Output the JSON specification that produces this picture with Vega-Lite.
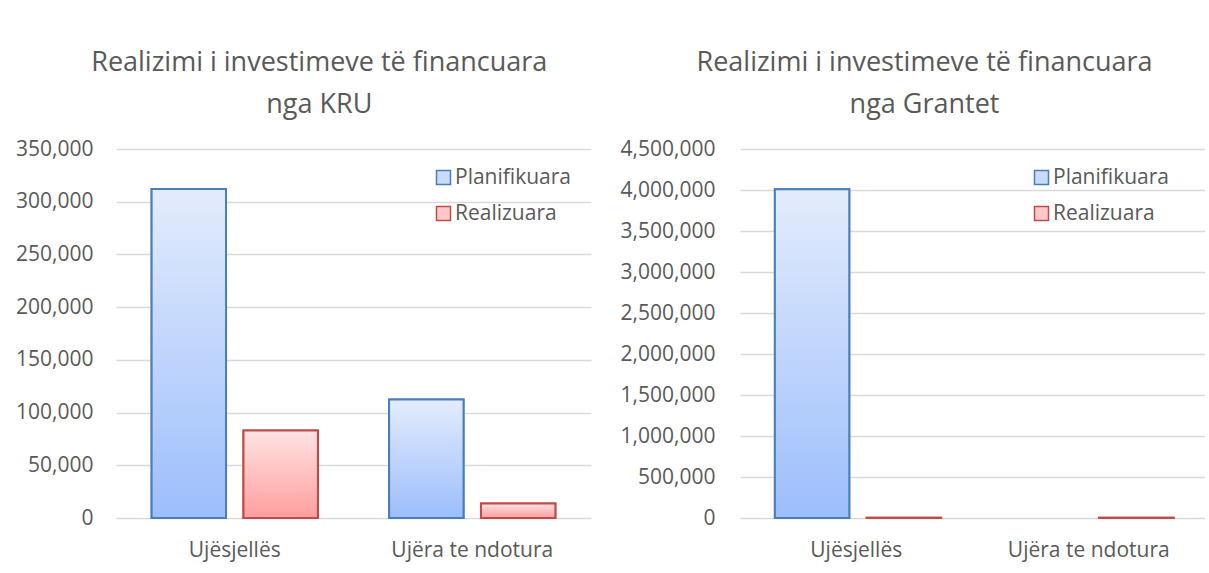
{
  "$schema": "https://vega.github.io/schema/vega-lite/v6.json",
  "padding": {"left": 15, "top": 49, "right": 0, "bottom": 10},
  "background": "white",
  "config": {
    "font": "Open Sans",
    "view": {"stroke": null},
    "title": {"font": "Open Sans", "fontSize": 27, "fontWeight": "normal", "color": "#595959", "lineHeight": 42, "anchor": "middle", "frame": "bounds", "offset": 19},
    "axis": {"labelFont": "Open Sans", "labelFontSize": 21, "labelColor": "#595959", "ticks": false, "domain": false, "title": null, "gridColor": "#d9d9d9", "gridWidth": 1.3},
    "legend": {"labelFont": "Open Sans", "labelFontSize": 21, "labelColor": "#595959", "symbolType": "square", "symbolSize": 196, "symbolStrokeWidth": 1.5, "labelOffset": 1, "rowPadding": 14, "title": null, "orient": "none"}
  },
  "datasets": {
    "rows": [
      {"panel": "KRU", "category": "Ujësjellës", "series": "Planifikuara", "value": 312000},
      {"panel": "KRU", "category": "Ujësjellës", "series": "Realizuara", "value": 83000},
      {"panel": "KRU", "category": "Ujëra te ndotura", "series": "Planifikuara", "value": 112500},
      {"panel": "KRU", "category": "Ujëra te ndotura", "series": "Realizuara", "value": 13800},
      {"panel": "Grantet", "category": "Ujësjellës", "series": "Planifikuara", "value": 4010000},
      {"panel": "Grantet", "category": "Ujësjellës", "series": "Realizuara", "value": 3000},
      {"panel": "Grantet", "category": "Ujëra te ndotura", "series": "Realizuara", "value": 3000}
    ]
  },
  "data": {"name": "rows"},
  "spacing": 29,
  "resolve": {"legend": {"fill": "independent", "stroke": "independent"}},
  "hconcat": [
    {
      "width": 475,
      "height": 369,
      "title": {"text": ["Realizimi i investimeve të financuara", "nga KRU"], "dx": 16},
      "transform": [{"filter": "datum.panel === 'KRU'"}],
      "encoding": {
        "x": {"field": "category", "type": "nominal", "sort": ["Ujësjellës", "Ujëra te ndotura"], "scale": {"domain": ["Ujësjellës", "Ujëra te ndotura"], "paddingInner": 0.3, "paddingOuter": 0.15}, "axis": {"labelAngle": 0, "labelPadding": 21}},
        "xOffset": {"field": "series", "type": "nominal", "scale": {"domain": ["Planifikuara", "Realizuara"], "paddingInner": 0.19, "paddingOuter": 0}},
        "y": {"field": "value", "type": "quantitative", "scale": {"domain": [0, 350000], "nice": false}, "axis": {"tickCount": 7, "format": ",.0f", "labelPadding": 23}}
      },
      "layer": [
        {
          "mark": {"type": "bar", "strokeWidth": 2},
          "encoding": {
            "fill": {"field": "series", "type": "nominal", "scale": {"domain": ["Planifikuara", "Realizuara"], "range": ["#c9dbfb", "#ffc9c9"]}, "legend": {"legendX": 317, "legendY": 18}},
            "stroke": {"field": "series", "type": "nominal", "scale": {"domain": ["Planifikuara", "Realizuara"], "range": ["#4a7ebb", "#be4b48"]}, "legend": {"legendX": 317, "legendY": 18}}
          }
        },
        {
          "transform": [{"filter": "datum.series === 'Planifikuara'"}],
          "mark": {"type": "bar", "strokeWidth": 2, "stroke": "#4a7ebb",
            "fill": {"gradient": "linear", "x1": 0, "y1": 0, "x2": 0, "y2": 1, "stops": [{"offset": 0, "color": "#e3ecfc"}, {"offset": 1, "color": "#9cbefc"}]}},
          "encoding": {}
        },
        {
          "transform": [{"filter": "datum.series === 'Realizuara'"}],
          "mark": {"type": "bar", "strokeWidth": 2, "stroke": "#be4b48",
            "fill": {"gradient": "linear", "x1": 0, "y1": 0, "x2": 0, "y2": 1, "stops": [{"offset": 0, "color": "#ffe3e3"}, {"offset": 1, "color": "#ff9e9e"}]}},
          "encoding": {}
        }
      ]
    },
    {
      "width": 465,
      "height": 369,
      "title": {"text": ["Realizimi i investimeve të financuara", "nga Grantet"], "dx": 12},
      "transform": [{"filter": "datum.panel === 'Grantet'"}],
      "encoding": {
        "x": {"field": "category", "type": "nominal", "sort": ["Ujësjellës", "Ujëra te ndotura"], "scale": {"domain": ["Ujësjellës", "Ujëra te ndotura"], "paddingInner": 0.3, "paddingOuter": 0.15}, "axis": {"labelAngle": 0, "labelPadding": 21}},
        "xOffset": {"field": "series", "type": "nominal", "scale": {"domain": ["Planifikuara", "Realizuara"], "paddingInner": 0.19, "paddingOuter": 0}},
        "y": {"field": "value", "type": "quantitative", "scale": {"domain": [0, 4500000], "nice": false}, "axis": {"tickCount": 9, "format": ",.0f", "labelPadding": 25}}
      },
      "layer": [
        {
          "mark": {"type": "bar", "strokeWidth": 2},
          "encoding": {
            "fill": {"field": "series", "type": "nominal", "scale": {"domain": ["Planifikuara", "Realizuara"], "range": ["#c9dbfb", "#ffc9c9"]}, "legend": {"legendX": 291, "legendY": 18}},
            "stroke": {"field": "series", "type": "nominal", "scale": {"domain": ["Planifikuara", "Realizuara"], "range": ["#4a7ebb", "#be4b48"]}, "legend": {"legendX": 291, "legendY": 18}}
          }
        },
        {
          "transform": [{"filter": "datum.series === 'Planifikuara'"}],
          "mark": {"type": "bar", "strokeWidth": 2, "stroke": "#4a7ebb",
            "fill": {"gradient": "linear", "x1": 0, "y1": 0, "x2": 0, "y2": 1, "stops": [{"offset": 0, "color": "#e3ecfc"}, {"offset": 1, "color": "#9cbefc"}]}},
          "encoding": {}
        },
        {
          "transform": [{"filter": "datum.series === 'Realizuara'"}],
          "mark": {"type": "bar", "strokeWidth": 2, "stroke": "#be4b48",
            "fill": {"gradient": "linear", "x1": 0, "y1": 0, "x2": 0, "y2": 1, "stops": [{"offset": 0, "color": "#ffe3e3"}, {"offset": 1, "color": "#ff9e9e"}]}},
          "encoding": {}
        }
      ]
    }
  ]
}
